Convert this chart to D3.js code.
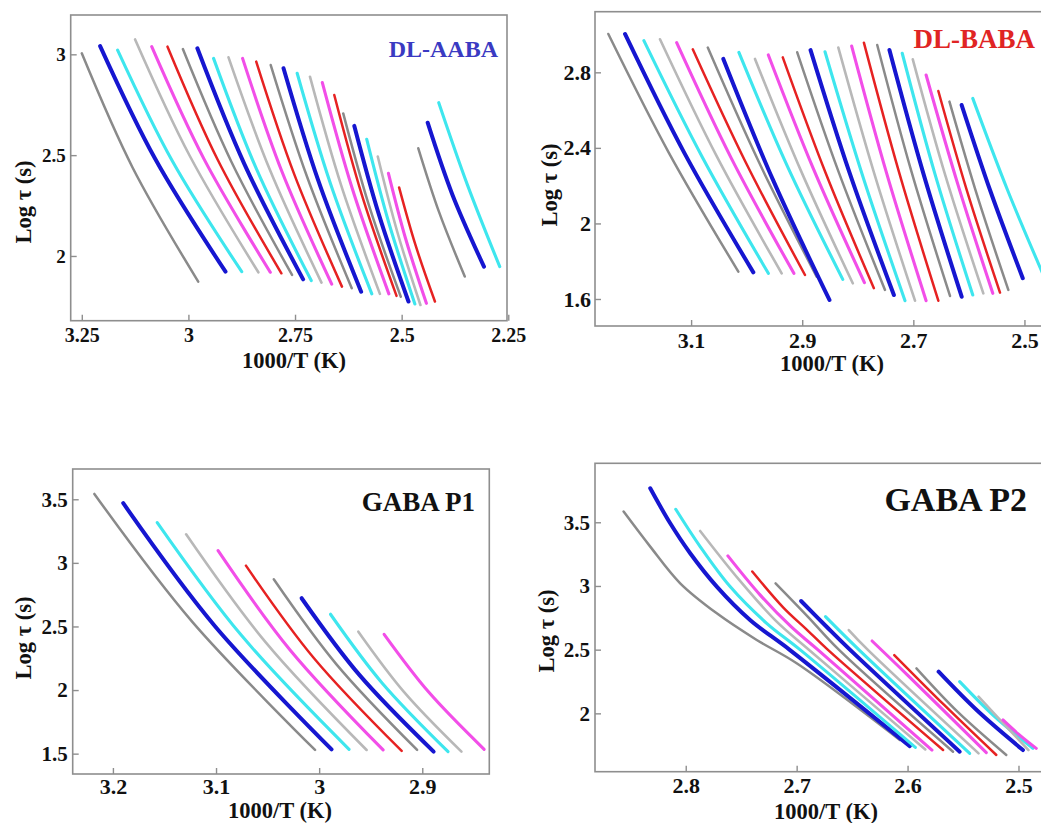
<!DOCTYPE html>
<html>
<head>
<meta charset="utf-8">
<script src="https://cdn.jsdelivr.net/npm/d3@7"></script>
<style>
  body { margin: 0; background: #ffffff; }
  svg { display: block; }
</style>
</head>
<body>
<svg id="fig" width="1041" height="823"></svg>
<script>
// Colour cycle shared by every panel: gray, blue, cyan, light gray, magenta, red
const seriesColors = ["#8a8a8a", "#1616d0", "#3ee6ee", "#b8b8b8", "#f24ee8", "#e62222"];
const seriesWidths = [2.5, 4.0, 3.1, 2.6, 3.1, 2.5];

// Each curve: [1000/T, log tau] points, high temperature end last
const aabaCurves = [
  [[3.250,3.005],[3.131,2.439],[2.977,1.873]],
  [[3.207,3.041],[3.078,2.482],[2.913,1.922]],
  [[3.166,3.021],[3.038,2.472],[2.875,1.922]],
  [[3.125,3.074],[2.997,2.497],[2.836,1.919]],
  [[3.086,3.038],[2.963,2.479],[2.808,1.919]],
  [[3.049,3.038],[2.931,2.476],[2.782,1.914]],
  [[3.013,3.026],[2.899,2.466],[2.757,1.906]],
  [[2.979,3.030],[2.869,2.457],[2.731,1.884]],
  [[2.941,2.980],[2.840,2.429],[2.712,1.878]],
  [[2.906,2.985],[2.809,2.427],[2.688,1.868]],
  [[2.873,2.980],[2.781,2.420],[2.664,1.860]],
  [[2.841,2.964],[2.752,2.406],[2.640,1.848]],
  [[2.807,2.947],[2.722,2.394],[2.617,1.840]],
  [[2.777,2.931],[2.696,2.377],[2.595,1.823]],
  [[2.745,2.906],[2.667,2.359],[2.570,1.812]],
  [[2.715,2.889],[2.642,2.351],[2.551,1.812]],
  [[2.686,2.860],[2.616,2.336],[2.530,1.812]],
  [[2.658,2.798],[2.593,2.300],[2.512,1.802]],
  [[2.637,2.707],[2.577,2.253],[2.502,1.798]],
  [[2.611,2.645],[2.554,2.210],[2.484,1.774]],
  [[2.582,2.579],[2.531,2.171],[2.469,1.762]],
  [[2.556,2.493],[2.511,2.125],[2.456,1.757]],
  [[2.531,2.410],[2.491,2.088],[2.442,1.765]],
  [[2.506,2.340],[2.468,2.057],[2.422,1.774]],
  [[2.461,2.534],[2.412,2.216],[2.352,1.898]],
  [[2.439,2.661],[2.381,2.304],[2.307,1.947]],
  [[2.413,2.760],[2.346,2.354],[2.270,1.947]]
];

const babaCurves = [
  [[3.249,3.003],[3.140,2.374],[3.015,1.745]],
  [[3.219,3.003],[3.112,2.372],[2.988,1.741]],
  [[3.185,2.968],[3.080,2.352],[2.961,1.736]],
  [[3.156,2.975],[3.054,2.356],[2.937,1.736]],
  [[3.126,2.957],[3.028,2.347],[2.915,1.736]],
  [[3.097,2.922],[3.002,2.325],[2.895,1.727]],
  [[3.070,2.931],[2.978,2.325],[2.874,1.718]],
  [[3.042,2.871],[2.953,2.233],[2.851,1.595]],
  [[3.014,2.906],[2.927,2.305],[2.827,1.704]],
  [[2.985,2.871],[2.902,2.277],[2.809,1.683]],
  [[2.961,2.892],[2.880,2.290],[2.788,1.687]],
  [[2.935,2.879],[2.858,2.268],[2.771,1.657]],
  [[2.909,2.906],[2.835,2.277],[2.751,1.648]],
  [[2.885,2.918],[2.815,2.270],[2.735,1.621]],
  [[2.859,2.909],[2.791,2.250],[2.715,1.591]],
  [[2.835,2.931],[2.770,2.261],[2.697,1.591]],
  [[2.811,2.939],[2.748,2.265],[2.677,1.591]],
  [[2.789,2.957],[2.726,2.274],[2.655,1.591]],
  [[2.765,2.945],[2.704,2.281],[2.634,1.616]],
  [[2.743,2.918],[2.682,2.265],[2.613,1.612]],
  [[2.720,2.901],[2.661,2.261],[2.593,1.621]],
  [[2.701,2.869],[2.642,2.250],[2.574,1.630]],
  [[2.677,2.786],[2.620,2.208],[2.557,1.630]],
  [[2.655,2.701],[2.603,2.168],[2.544,1.634]],
  [[2.635,2.645],[2.585,2.147],[2.529,1.648]],
  [[2.613,2.627],[2.561,2.169],[2.503,1.710]],
  [[2.593,2.662],[2.531,2.181],[2.462,1.700]]
];

const gabaP1Curves = [
  [[3.218,3.542],[3.123,2.536],[3.004,1.529]],
  [[3.190,3.469],[3.101,2.502],[2.988,1.534]],
  [[3.157,3.317],[3.075,2.426],[2.971,1.534]],
  [[3.129,3.225],[3.052,2.377],[2.954,1.529]],
  [[3.098,3.096],[3.028,2.313],[2.938,1.529]],
  [[3.071,2.978],[3.005,2.250],[2.920,1.521]],
  [[3.044,2.871],[2.983,2.200],[2.905,1.529]],
  [[3.017,2.722],[2.961,2.119],[2.889,1.516]],
  [[2.989,2.596],[2.939,2.056],[2.875,1.516]],
  [[2.962,2.459],[2.918,1.988],[2.862,1.516]],
  [[2.937,2.438],[2.894,1.986],[2.840,1.534]]
];

const gabaP2Curves = [
  [[2.856,3.584],[2.832,3.309],[2.805,3.021],[2.772,2.785],[2.736,2.576],[2.700,2.393],[2.607,1.791]],
  [[2.832,3.767],[2.814,3.492],[2.796,3.257],[2.772,2.995],[2.742,2.733],[2.706,2.497],[2.598,1.743]],
  [[2.809,3.602],[2.787,3.309],[2.760,2.995],[2.727,2.707],[2.697,2.500],[2.593,1.733]],
  [[2.787,3.432],[2.752,3.050],[2.718,2.720],[2.689,2.500],[2.584,1.717]],
  [[2.762,3.236],[2.733,2.930],[2.705,2.680],[2.681,2.500],[2.578,1.712]],
  [[2.740,3.113],[2.712,2.830],[2.690,2.650],[2.672,2.500],[2.568,1.712]],
  [[2.719,3.021],[2.690,2.760],[2.662,2.500],[2.559,1.699]],
  [[2.696,2.882],[2.673,2.680],[2.652,2.500],[2.553,1.699]],
  [[2.674,2.759],[2.644,2.500],[2.544,1.686]],
  [[2.653,2.654],[2.636,2.500],[2.536,1.686]],
  [[2.632,2.568],[2.600,2.300],[2.529,1.691]],
  [[2.612,2.458],[2.567,2.066],[2.520,1.673]],
  [[2.592,2.353],[2.555,2.013],[2.511,1.673]],
  [[2.572,2.327],[2.537,2.020],[2.496,1.712]],
  [[2.553,2.249],[2.523,1.987],[2.487,1.725]],
  [[2.536,2.131],[2.513,1.915],[2.491,1.712]],
  [[2.514,1.948],[2.500,1.837],[2.484,1.725]]
];

// Tick values
const aabaXTicks = [3.25, 3, 2.75, 2.5, 2.25];
const aabaYTicks = [3, 2.5, 2];
const babaXTicks = [3.1, 2.9, 2.7, 2.5];
const babaYTicks = [2.8, 2.4, 2, 1.6];
const gabaP1XTicks = [3.2, 3.1, 3, 2.9];
const gabaP1YTicks = [3.5, 3, 2.5, 2, 1.5];
const gabaP2XTicks = [2.8, 2.7, 2.6, 2.5];
const gabaP2YTicks = [3.5, 3, 2.5, 2];

// Panel titles
const panelTitles = ["DL-AABA", "DL-BABA", "GABA P1", "GABA P2"];
const xTitle = "1000/T (K)";
const yTitle = "Log \u03C4 (s)";

// Layout of the four panels
const panels = [
  { id: "p1", curves: aabaCurves, xTicks: aabaXTicks, yTicks: aabaYTicks, title: panelTitles[0],
    box: { l: 70.7, r: 507, t: 15, b: 320.7 }, xDom: [3.276, 2.253], yDom: [1.679, 3.195],
    titleColor: "#3a3ac2", titleSize: 24, titleX: 498, titleY: 57,
    xTickSize: 20, yTickSize: 19, xPad: 7, yPad: 5,
    xLabel: [294, 368], yLabel: [31, 202], lw: 1.0 },
  { id: "p2", curves: babaCurves, xTicks: babaXTicks, yTicks: babaYTicks, title: panelTitles[1],
    box: { l: 595, r: 1045, t: 11.7, b: 326 }, xDom: [3.273, 2.463], yDom: [1.457, 3.121],
    titleColor: "#e02424", titleSize: 27, titleX: 1035, titleY: 48,
    xTickSize: 22, yTickSize: 22, xPad: 6, yPad: 4,
    xLabel: [832, 371], yLabel: [557, 185], lw: 1.0 },
  { id: "p3", curves: gabaP1Curves, xTicks: gabaP1XTicks, yTicks: gabaP1YTicks, title: panelTitles[2],
    box: { l: 72.7, r: 489.3, t: 469, b: 774 }, xDom: [3.239, 2.835], yDom: [1.340, 3.738],
    titleColor: "#111111", titleSize: 27, titleX: 475, titleY: 511,
    xTickSize: 22, yTickSize: 21, xPad: 4, yPad: 5,
    xLabel: [280, 818], yLabel: [31, 638], lw: 1.0 },
  { id: "p4", curves: gabaP2Curves, xTicks: gabaP2XTicks, yTicks: gabaP2YTicks, title: panelTitles[3],
    box: { l: 595, r: 1044, t: 463.3, b: 771.7 }, xDom: [2.8818, 2.477], yDom: [1.542, 3.963],
    titleColor: "#111111", titleSize: 34, titleX: 1027, titleY: 511,
    xTickSize: 22, yTickSize: 21, xPad: 6, yPad: 5,
    xLabel: [826, 819], yLabel: [554, 631], lw: 1.0 }
];

const FONT = "'Liberation Serif', 'Times New Roman', serif";
const FRAME = "#8e8e8e";
const svg = d3.select("#fig");
const defs = svg.append("defs");

panels.forEach(p => {
  const x = d3.scaleLinear().domain(p.xDom).range([p.box.l, p.box.r]);
  const y = d3.scaleLinear().domain(p.yDom).range([p.box.b, p.box.t]);
  const g = svg.append("g").attr("class", "panel-" + p.id);

  defs.append("clipPath").attr("id", "clip-" + p.id)
    .append("rect")
    .attr("x", p.box.l).attr("y", p.box.t)
    .attr("width", p.box.r - p.box.l).attr("height", p.box.b - p.box.t);

  // relaxation-time curves
  const line = d3.line()
    .x(d => x(d[0]))
    .y(d => y(d[1]))
    .curve(d3.curveCatmullRom.alpha(0.5));

  g.append("g")
    .attr("clip-path", `url(#clip-${p.id})`)
    .selectAll("path")
    .data(p.curves)
    .join("path")
    .attr("d", line)
    .attr("fill", "none")
    .attr("stroke", (d, i) => seriesColors[i % seriesColors.length])
    .attr("stroke-width", (d, i) => seriesWidths[i % seriesWidths.length] * p.lw)
    .attr("stroke-linecap", "round")
    .attr("stroke-linejoin", "round");

  // frame
  g.append("rect")
    .attr("x", p.box.l).attr("y", p.box.t)
    .attr("width", p.box.r - p.box.l).attr("height", p.box.b - p.box.t)
    .attr("fill", "none")
    .attr("stroke", FRAME)
    .attr("stroke-width", 1.6);

  // axes with inward ticks
  const xAxis = d3.axisBottom(x)
    .tickValues(p.xTicks)
    .tickFormat(d => String(d))
    .tickSizeInner(-6).tickSizeOuter(0)
    .tickPadding(p.xPad);
  const yAxis = d3.axisLeft(y)
    .tickValues(p.yTicks)
    .tickFormat(d => String(d))
    .tickSizeInner(-6).tickSizeOuter(0)
    .tickPadding(p.yPad);

  const gx = g.append("g").attr("transform", `translate(0,${p.box.b})`).call(xAxis);
  const gy = g.append("g").attr("transform", `translate(${p.box.l},0)`).call(yAxis);

  [[gx, p.xTickSize], [gy, p.yTickSize]].forEach(([a, size]) => {
    a.select(".domain").remove();
    a.selectAll(".tick line").attr("stroke", FRAME).attr("stroke-width", 1.4);
    a.selectAll(".tick text")
      .attr("fill", "#111")
      .style("font-family", FONT)
      .style("font-weight", "bold")
      .style("font-size", size + "px");
  });

  // panel title
  g.append("text")
    .attr("x", p.titleX).attr("y", p.titleY)
    .attr("text-anchor", "end")
    .attr("fill", p.titleColor)
    .style("font-family", FONT)
    .style("font-weight", "bold")
    .style("font-size", p.titleSize + "px")
    .text(p.title);

  // axis titles
  g.append("text")
    .attr("x", p.xLabel[0]).attr("y", p.xLabel[1])
    .attr("text-anchor", "middle")
    .attr("fill", "#111")
    .style("font-family", FONT)
    .style("font-weight", "bold")
    .style("font-size", "22.5px")
    .text(xTitle);

  g.append("text")
    .attr("transform", `translate(${p.yLabel[0]},${p.yLabel[1]}) rotate(-90)`)
    .attr("text-anchor", "middle")
    .attr("fill", "#111")
    .style("font-family", FONT)
    .style("font-weight", "bold")
    .style("font-size", "22.5px")
    .text(yTitle);
});
</script>
</body>
</html>
